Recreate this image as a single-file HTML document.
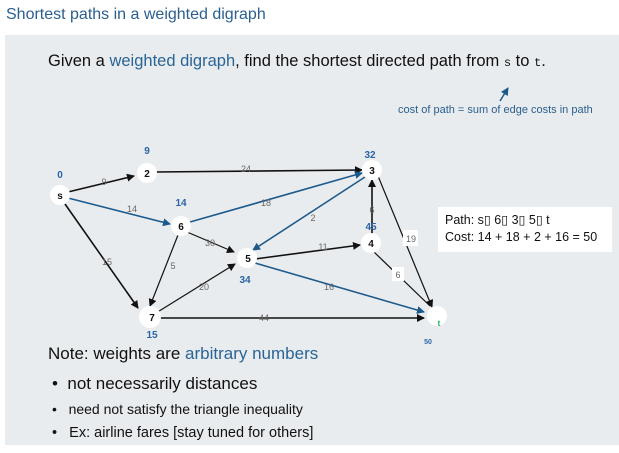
<!DOCTYPE html>
<html><head><style>
html,body{margin:0;padding:0;background:#fff;}
body{width:619px;height:453px;position:relative;overflow:hidden;font-family:"Comic Sans MS","Liberation Sans",sans-serif;}
.t{position:absolute;white-space:nowrap;}
</style></head><body>
<div class="t" style="left:6px;top:6px;font-size:16px;color:#2a5f8f;">Shortest paths in a weighted digraph</div>
<div style="position:absolute;left:5px;top:35px;width:614px;height:410px;background:#e9ecee;"></div>
<div class="t" style="left:48px;top:52px;font-size:16.5px;color:#111;">Given a <span style="color:#2a6496">weighted digraph</span>, find the shortest directed path from <span style="font-family:'Liberation Mono';font-size:12px">s</span> to <span style="font-family:'Liberation Mono';font-size:12px">t</span>.</div>
<div class="t" style="left:398px;top:104px;font-size:11px;color:#2a5f8f;">cost of path = sum of edge costs in path</div>
<svg style="position:absolute;left:0;top:0" width="619" height="453">
<defs>
<marker id="ab" markerWidth="8" markerHeight="8" refX="7" refY="4" orient="auto" markerUnits="userSpaceOnUse"><path d="M0,0L8,4L0,8z" fill="#111"/></marker>
<marker id="au" markerWidth="8" markerHeight="8" refX="7" refY="4" orient="auto" markerUnits="userSpaceOnUse"><path d="M0,0L8,4L0,8z" fill="#1d5a8c"/></marker>
</defs>
<line x1="500" y1="101" x2="508" y2="88" stroke="#1d5a8c" stroke-width="1.5" marker-end="url(#au)"/>
<g stroke-width="1.6" fill="none">
<line x1="68" y1="192" x2="134" y2="176" stroke="#111" marker-end="url(#ab)"/>
<line x1="68" y1="198" x2="170" y2="224" stroke="#1d5a8c" marker-end="url(#au)"/>
<line x1="65" y1="204" x2="138" y2="308" stroke="#111" marker-end="url(#ab)"/>
<line x1="155" y1="172" x2="362" y2="170" stroke="#111" marker-end="url(#ab)"/>
<line x1="190" y1="222" x2="362" y2="173" stroke="#1d5a8c" marker-end="url(#au)"/>
<line x1="365" y1="177" x2="253" y2="250" stroke="#1d5a8c" marker-end="url(#au)"/>
<line x1="187" y1="232" x2="234" y2="252" stroke="#111" marker-end="url(#ab)" stroke-width="1.2"/>
<line x1="178" y1="235" x2="150" y2="306" stroke="#111" marker-end="url(#ab)" stroke-width="1.2"/>
<line x1="156" y1="313" x2="235" y2="264" stroke="#111" marker-end="url(#ab)" stroke-width="1.2"/>
<line x1="255" y1="259" x2="360" y2="245" stroke="#111" marker-end="url(#ab)"/>
<line x1="255" y1="263" x2="424" y2="312" stroke="#1d5a8c" marker-end="url(#au)"/>
<line x1="155" y1="318" x2="424" y2="318" stroke="#111" marker-end="url(#ab)"/>
<line x1="372" y1="235" x2="372" y2="180" stroke="#111" marker-end="url(#ab)"/>
<line x1="378" y1="176" x2="432" y2="307" stroke="#111" marker-end="url(#ab)" stroke-width="1.2"/>
<line x1="374" y1="252" x2="430" y2="306" stroke="#111" stroke-width="1.2"/>
</g>
<g fill="#fff">
<circle cx="60" cy="195" r="10"/><circle cx="147" cy="173" r="10"/><circle cx="181" cy="226" r="10"/>
<circle cx="247" cy="258" r="10"/><circle cx="150" cy="317" r="11"/><circle cx="372" cy="170" r="10"/>
<circle cx="371" cy="243" r="10"/><circle cx="437" cy="316" r="10"/>
<rect x="403" y="230" width="15" height="16"/><rect x="392" y="267" width="12" height="14"/>
</g>
<g font-family="Liberation Sans" font-size="10" font-weight="bold" fill="#111" text-anchor="middle">
<text x="60" y="199">s</text><text x="147" y="177">2</text><text x="181" y="230">6</text><text x="248" y="262">5</text>
<text x="152" y="321">7</text><text x="372" y="174">3</text><text x="371" y="247">4</text><text x="439" y="326" font-size="8" fill="#2a6">t</text>
</g>
<g font-family="Liberation Sans" font-size="10" font-weight="bold" fill="#2a64a8" text-anchor="middle">
<text x="60" y="178">0</text><text x="147" y="154">9</text><text x="181" y="206">14</text><text x="245" y="283">34</text>
<text x="152" y="338">15</text><text x="370" y="158">32</text><text x="371" y="230">45</text><text x="428" y="344" font-size="7">50</text>
</g>
<g font-family="Liberation Sans" font-size="9" fill="#666" text-anchor="middle">
<text x="104" y="185">9</text><text x="132" y="212">14</text><text x="107" y="265">15</text><text x="246" y="172">24</text>
<text x="266" y="206">18</text><text x="313" y="221">2</text><text x="210" y="246">30</text><text x="173" y="269">5</text>
<text x="204" y="290">20</text><text x="323" y="250">11</text><text x="329" y="290">16</text><text x="264" y="321">44</text>
<text x="372" y="213">6</text><text x="411" y="242">19</text><text x="398" y="278">6</text>
</g>
</svg>
<div style="position:absolute;left:438px;top:207px;width:174px;height:45px;background:#fff;"></div>
<div class="t" style="left:445px;top:212px;font-size:12.5px;color:#111;line-height:17px;">Path: s&#9647; 6&#9647; 3&#9647; 5&#9647; t<br>Cost: 14 + 18 + 2 + 16 = 50</div>
<div class="t" style="left:48px;top:344px;font-size:17px;color:#111;">Note: weights are <span style="color:#2a6496">arbitrary numbers</span></div>
<div class="t" style="left:52px;top:374px;font-size:17px;color:#111;">•&nbsp;&nbsp;not necessarily distances</div>
<div class="t" style="left:52px;top:401px;font-size:14px;color:#111;">•&nbsp;&nbsp;&nbsp;need not satisfy the triangle inequality</div>
<div class="t" style="left:52px;top:425px;font-size:14.5px;color:#111;">•&nbsp;&nbsp;&nbsp;Ex: airline fares [stay tuned for others]</div>
</body></html>
